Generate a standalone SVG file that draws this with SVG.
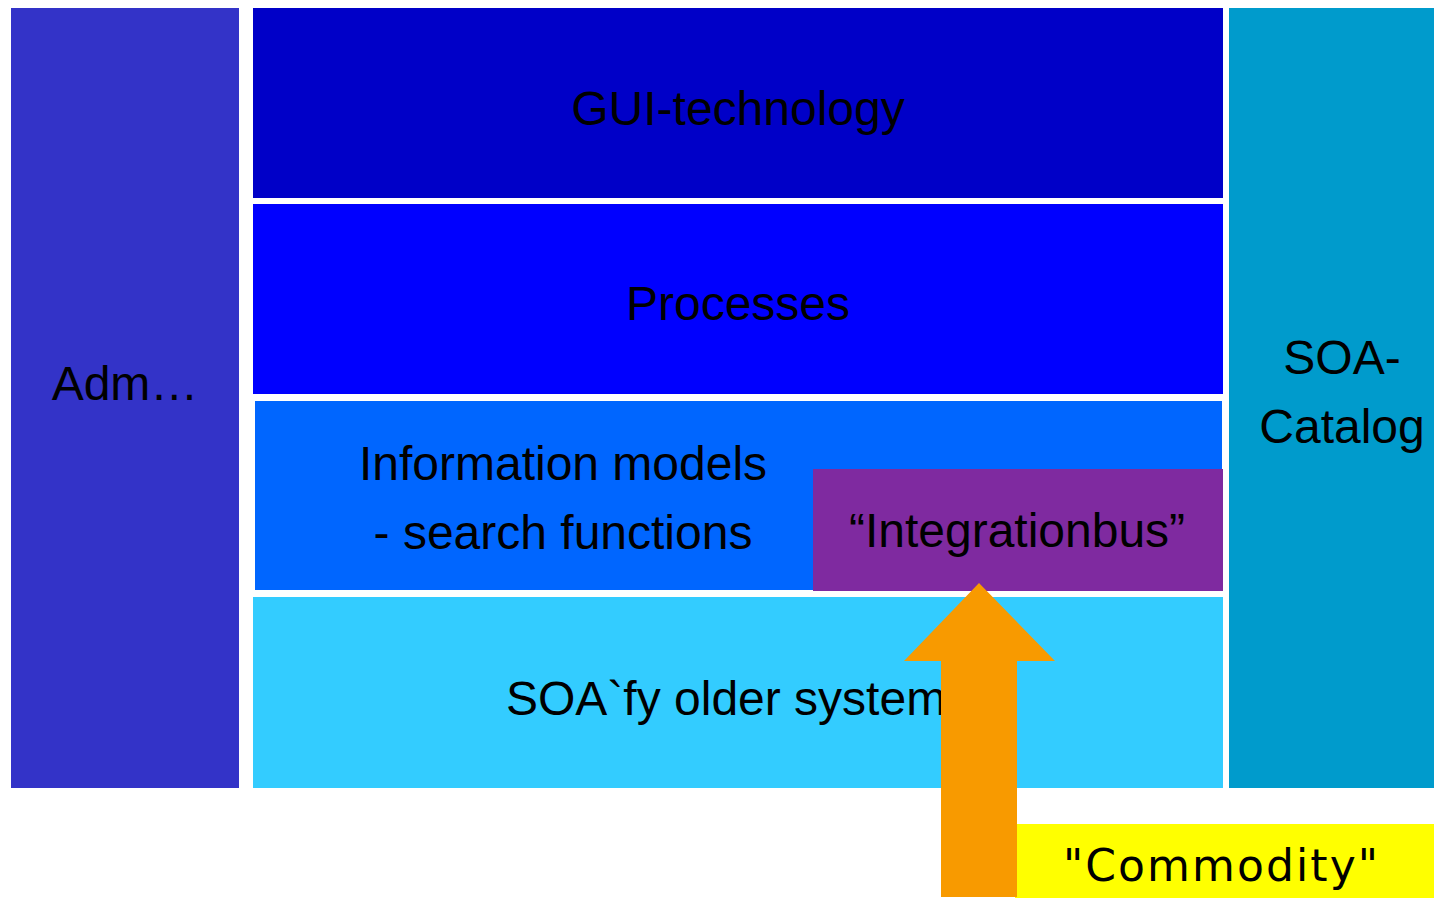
<svg xmlns="http://www.w3.org/2000/svg" width="1434" height="898" viewBox="0 0 1434 898">
<style>
.t{font-family:"Liberation Sans",Arial,sans-serif;font-size:48px;fill:#000;}
.c{text-anchor:middle;}
</style>
<rect width="1434" height="898" fill="#fff"/>
<g id="adm"><rect x="11" y="8" width="228" height="780" fill="#3333c8"/><text class="t c" x="125" y="400">Adm…</text></g>
<g id="gui"><rect x="253" y="8" width="970" height="190" fill="#0000c8"/><text class="t c" x="738" y="125">GUI-technology</text></g>
<g id="processes"><rect x="253" y="204" width="970" height="190" fill="#0000ff"/><text class="t c" x="738" y="320">Processes</text></g>
<g id="info"><rect x="255" y="401" width="967" height="189" fill="#0066ff"/><text class="t c" x="563" y="480">Information models</text><text class="t c" x="563" y="549">- search functions</text></g>
<g id="bus"><rect x="813" y="469" width="410" height="122" fill="#7f2aa0"/><text class="t c" x="1017" y="547">“Integrationbus”</text></g>
<g id="soafy"><rect x="253" y="597" width="970" height="191" fill="#33ccff"/><text class="t" x="506" y="715">SOA`fy older system</text></g>
<g id="catalog"><rect x="1229" y="8" width="205" height="780" fill="#009bcc"/><text class="t c" x="1342" y="374">SOA-</text><text class="t c" x="1342" y="443">Catalog</text></g>
<g id="commodity"><rect x="1015" y="824" width="419" height="74" fill="#ffff00"/><text x="1063" y="881" textLength="315" lengthAdjust="spacing" font-family="DejaVu Sans,sans-serif" font-size="44" fill="#000">"Commodity"</text></g>
<g id="connectors"><polygon points="979,583 1055,661 1017,661 1017,897 941,897 941,661 904,661" fill="#f89a00"/></g>
</svg>
